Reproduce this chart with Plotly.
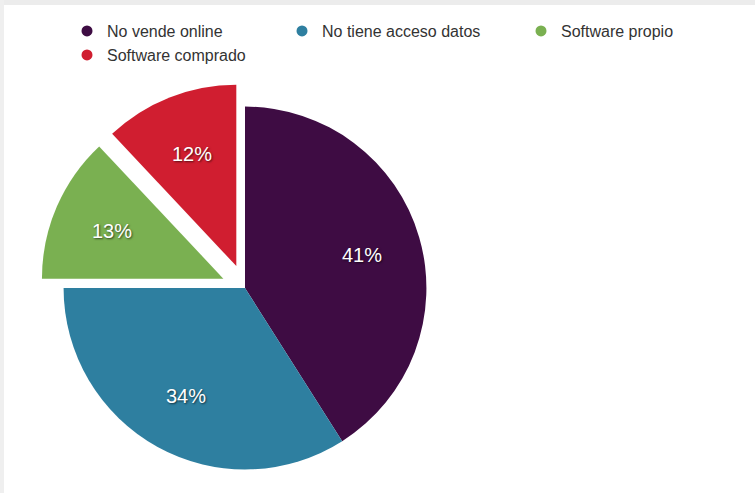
import math
import plotly.graph_objects as go

categories = ["No vende online", "No tiene acceso datos", "Software propio", "Software comprado"]
values = [41, 34, 13, 12]
colors = ["#3e0c43", "#2e7fa0", "#7ab051", "#d01e30"]
pulls = [0, 0, 0.13, 0.13]

W, H = 755, 493
ML, MR, MT, MB = 0, 0, 83, 0
PW, PH = W - ML - MR, H - MT - MB

def px_x(x):
    return (x - ML) / PW

def px_y(y):
    return (H - MB - y) / PH

# pie box (pixels)
PIE_L, PIE_R = 40, 450
cx = (PIE_L + PIE_R) / 2
cy = MT + PH / 2
radius = min(PIE_R - PIE_L, PH) / (2 + 2 * max(pulls))

fig = go.Figure()
fig.add_trace(go.Pie(
    labels=categories, values=values, sort=False, direction="clockwise", rotation=0,
    marker=dict(colors=colors, line=dict(width=0)),
    pull=pulls, textinfo="none",
    showlegend=False, hoverinfo="label+percent",
    domain=dict(x=[px_x(PIE_L), px_x(PIE_R)], y=[0, 1]),
))

# percent labels placed at 0.67 r along each slice bisector
total = sum(values)
annotations = []
cum = 0
for v, p in zip(values, pulls):
    mid = (cum + v / 2) / total * 2 * math.pi
    cum += v
    d = (0.67 + p) * radius
    lx = cx + d * math.sin(mid)
    ly = cy - d * math.cos(mid) + 1
    annotations.append(dict(
        x=px_x(lx), y=px_y(ly), xref="paper", yref="paper", showarrow=False,
        text=f"{round(v / total * 100)}%", xanchor="center", yanchor="middle",
        font=dict(family="Liberation Sans", size=20, color="white",
                  shadow="1px 1px 2px rgba(0,0,0,0.6)"),
    ))

legend_pos = [(87, 31), (302, 31), (541, 31), (87, 55)]
legend_names = ["legend", "legend2", "legend3", "legend4"]
layout_legends = {}
for name, cat, col, (mx, my) in zip(legend_names, categories, colors, legend_pos):
    fig.add_trace(go.Scatter(x=[None], y=[None], mode="markers", name=cat,
                             marker=dict(color=col, size=11, symbol="circle"),
                             legend=name, showlegend=True))
    layout_legends[name] = dict(
        x=px_x(mx - 20), y=px_y(my), xanchor="left", yanchor="middle",
        bgcolor="rgba(0,0,0,0)", borderwidth=0,
        font=dict(family="Liberation Sans", size=16, color="#333333"),
    )

fig.update_layout(
    width=W, height=H,
    margin=dict(l=ML, r=MR, t=MT, b=MB),
    paper_bgcolor="white", plot_bgcolor="white",
    xaxis=dict(visible=False), yaxis=dict(visible=False),
    shapes=[
        dict(type="rect", xref="paper", yref="paper", layer="above",
             x0=px_x(-5), x1=px_x(W + 5), y0=px_y(5), y1=px_y(-5),
             fillcolor="#ececec", line=dict(width=0)),
        dict(type="rect", xref="paper", yref="paper", layer="above",
             x0=px_x(-5), x1=px_x(4), y0=px_y(H + 5), y1=px_y(-5),
             fillcolor="#efefef", line=dict(width=0)),
    ],
    annotations=annotations,
    **layout_legends,
)

fig.write_html("out.html")
